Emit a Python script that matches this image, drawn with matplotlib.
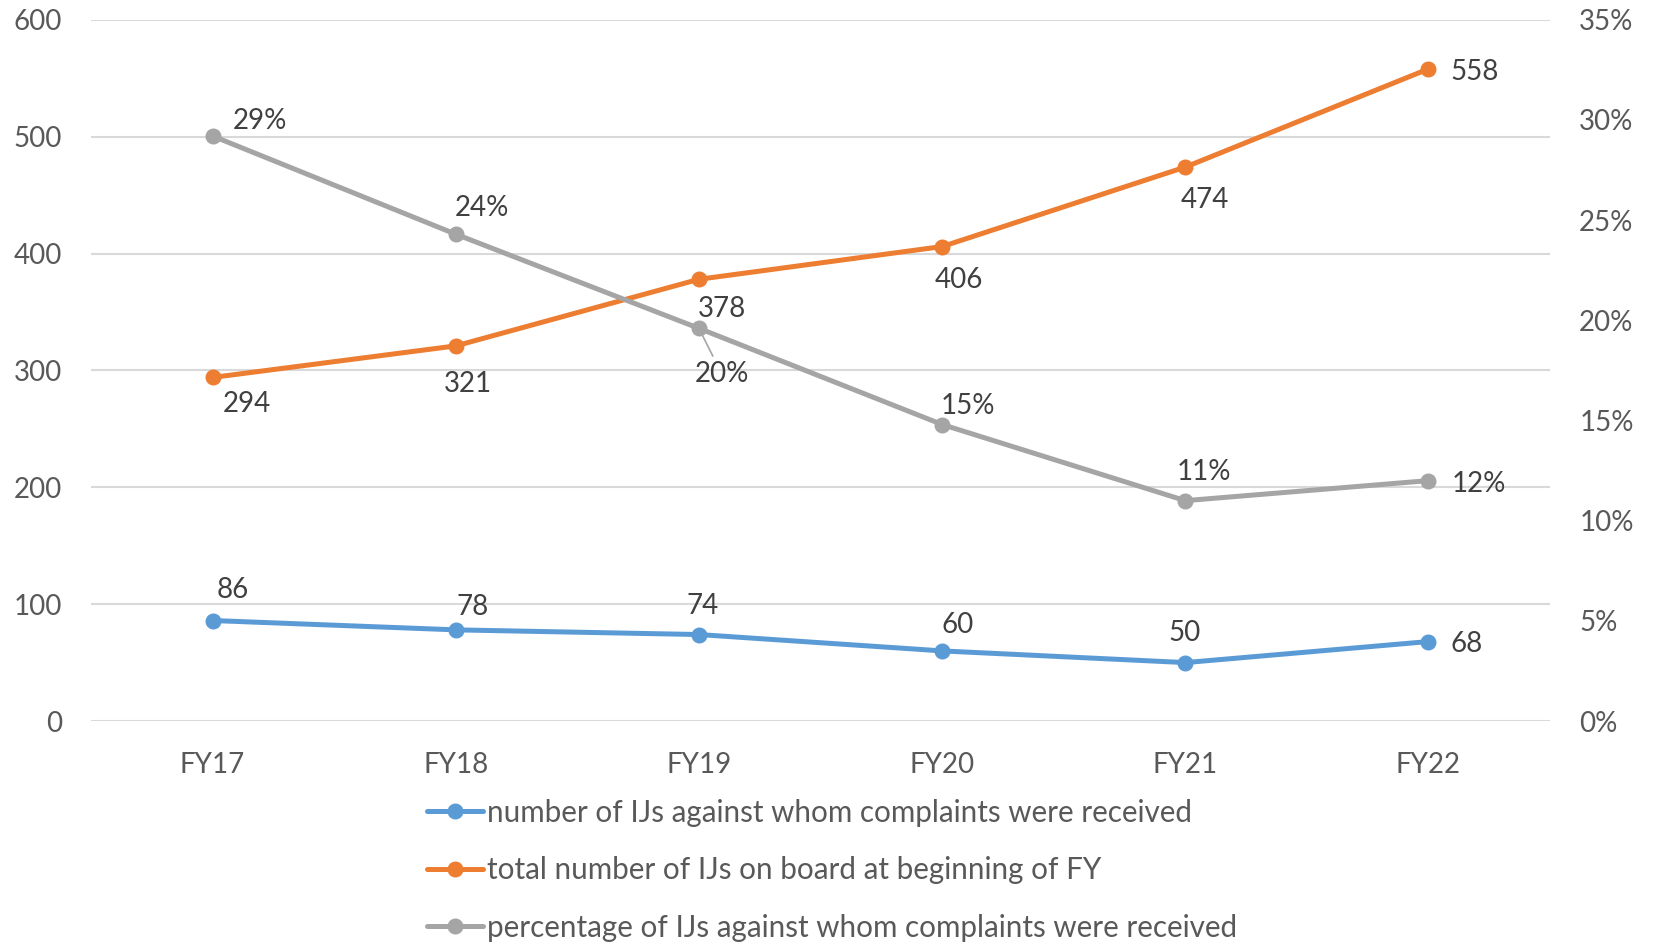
import matplotlib
matplotlib.use("Agg")
import matplotlib.pyplot as plt
from matplotlib.ticker import FuncFormatter

plt.rcParams['font.family'] = ['Lato', 'DejaVu Sans']

categories = ["FY17", "FY18", "FY19", "FY20", "FY21", "FY22"]
complaints = [86, 78, 74, 60, 50, 68]
total_ijs = [294, 321, 378, 406, 474, 558]
pct = [0.292, 0.243, 0.196, 0.148, 0.110, 0.120]
pct_labels = ["29%", "24%", "20%", "15%", "11%", "12%"]
left_ticks = [0, 100, 200, 300, 400, 500, 600]
right_ticks = [0, 0.05, 0.10, 0.15, 0.20, 0.25, 0.30, 0.35]

names = ["number of IJs against whom complaints were received",
         "total number of IJs on board at beginning of FY",
         "percentage of IJs against whom complaints were received"]

BLUE, ORANGE, GRAY = "#5B9BD5", "#ED7D31", "#A5A5A5"
TICK_C, LABEL_C, GRID_C = "#595959", "#404040", "#D9D9D9"
FS = 20

fig = plt.figure(figsize=(16.55, 9.44), dpi=100)
ax = fig.add_axes([0.055, 0.2362, 0.8816, 0.7428])
ax2 = ax.twinx()

x = list(range(len(categories)))
lw, ms = 3.6, 10.5
l1, = ax.plot(x, complaints, color=BLUE, lw=lw, marker='o', ms=ms, solid_capstyle='round')
l2, = ax.plot(x, total_ijs, color=ORANGE, lw=lw, marker='o', ms=ms, solid_capstyle='round')
l3, = ax2.plot(x, pct, color=GRAY, lw=lw, marker='o', ms=ms, solid_capstyle='round')

ax.set_xlim(-0.5, len(categories) - 0.5)
ax.set_ylim(0, 600)
ax2.set_ylim(0, 0.35)
ax.set_yticks(left_ticks)
ax2.set_yticks(right_ticks)
ax2.yaxis.set_major_formatter(FuncFormatter(lambda v, p: f"{round(v*100)}%"))
ax.set_xticks(x)
ax.set_xticklabels(categories)

ax.grid(axis='y', color=GRID_C, lw=1.5)
ax.set_axisbelow(True)
for a in (ax, ax2):
    for s in a.spines.values():
        s.set_visible(False)
    a.tick_params(length=0, labelsize=FS, colors=TICK_C)
ax.tick_params(axis='y', pad=21)
ax2.tick_params(axis='y', pad=21)
ax.tick_params(axis='x', pad=22)

def lab(a, xi, yi, text, dx, dy, **kw):
    a.annotate(text, (xi, yi), xytext=(dx, dy - 2), textcoords='offset pixels',
               ha='center', va='center', fontsize=FS, color=LABEL_C, **kw)

blue_off = [(20, 33), (17, 25), (4, 31), (15, 28), (-1, 32), (38, 0)]
orange_off = [(34, -25), (12, -36), (23, -28), (17, -31), (20, -31), (46, -1)]
gray_off = [(47, 17), (26, 28), (23, -44), (26, 21), (19, 31), (50, -1)]

for i in x:
    lab(ax, i, complaints[i], str(complaints[i]), *blue_off[i])
    lab(ax, i, total_ijs[i], str(total_ijs[i]), *orange_off[i])
    if i == 2:
        lab(ax2, i, pct[i], pct_labels[i], *gray_off[i],
            arrowprops=dict(arrowstyle='-', color=GRAY, lw=1.2, shrinkA=2, shrinkB=6))
    else:
        lab(ax2, i, pct[i], pct_labels[i], *gray_off[i])

fig.legend([l1, l2, l3], names, loc='upper left', bbox_to_anchor=(0.258, 0.154),
           frameon=False, fontsize=21.3, labelcolor=TICK_C, handlelength=1.9,
           handletextpad=0.12, labelspacing=1.0, borderaxespad=0, borderpad=0)

fig.savefig("out.png", dpi=100)
